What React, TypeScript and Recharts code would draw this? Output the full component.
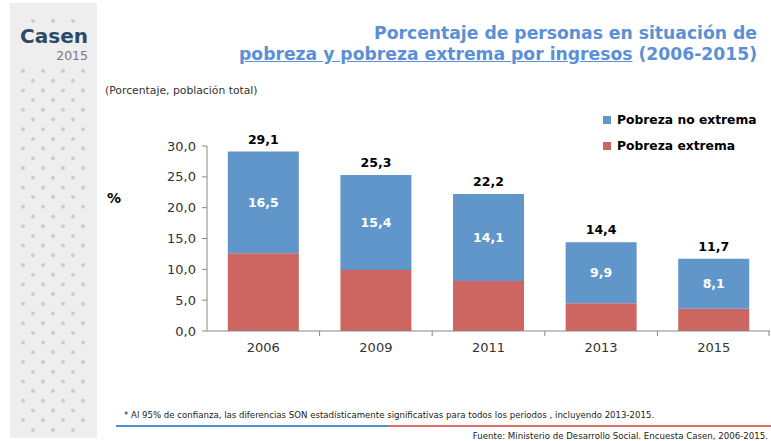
import React from 'react';
import { BarChart, Bar, XAxis, YAxis, LabelList } from 'recharts';

const years = ['2006', '2009', '2011', '2013', '2015'];
const pobrezaExtrema = [12.6, 9.9, 8.1, 4.5, 3.6];
const pobrezaNoExtrema = [16.5, 15.4, 14.1, 9.9, 8.1];
const totals = [29.1, 25.3, 22.2, 14.4, 11.7];
const yTicks = [0, 5, 10, 15, 20, 25, 30];
const legendItems = [
  { label: 'Pobreza no extrema', key: 'noExtrema' },
  { label: 'Pobreza extrema', key: 'extrema' },
];

const data = years.map((y, i) => ({
  year: y,
  extrema: pobrezaExtrema[i],
  noExtrema: pobrezaNoExtrema[i],
  total: totals[i],
}));

const BLUE = '#6096c9';
const RED = '#cd6661';
const FONT = '"DejaVu Sans", Verdana, sans-serif';
const colorOf: Record<string, string> = { noExtrema: BLUE, extrema: RED };

const fmt = (v: number) => v.toFixed(1).replace('.', ',');

const XTick = (props: any) => {
  const { x, y, payload, index, visibleTicksCount } = props;
  const off = payload && payload.offset ? payload.offset : 56;
  const axisY = y - 8;
  const isLast = index === (visibleTicksCount ?? years.length) - 1;
  return (
    <g>
      {index > 0 && <line x1={x - off} x2={x - off} y1={axisY} y2={axisY + 5} stroke="#888" />}
      {isLast && <line x1={x + off - 1} x2={x + off - 1} y1={axisY} y2={axisY + 5} stroke="#888" />}
      <text x={x} y={y + 13} textAnchor="middle" fill="#333" fontSize={13} fontFamily={FONT}>
        {payload.value}
      </text>
    </g>
  );
};

const dots: { x: number; y: number }[] = [];
for (let r = 0; r < 38; r++) {
  const y = 71 + r * 9.7;
  if (y > 436) break;
  const xs = r % 2 === 0 ? [23, 43, 63, 83] : [33, 53, 73];
  xs.forEach((x) => dots.push({ x, y }));
}

export default function App() {
  return (
    <div style={{ position: 'absolute', left: 0, top: 0, width: 771, height: 441, overflow: 'hidden', background: '#fff', fontFamily: FONT }}>
      {/* sidebar */}
      <svg style={{ position: 'absolute', left: 0, top: 0 }} width={110} height={441}>
        <rect x={10} y={3} width={87} height={435} fill="#eeeeee" />
        {[33, 53, 73].map((x) => (
          <circle key={'t' + x} cx={x} cy={21} r={2} fill="#cbcbcb" />
        ))}
        {dots.map((d, i) => (
          <circle key={i} cx={d.x} cy={d.y} r={2} fill="#cbcbcb" />
        ))}
        <text x={88} y={43} textAnchor="end" fontFamily={FONT} fontWeight="bold" fontSize={20} fill="#2c4a66">Casen</text>
        <text x={88} y={60} textAnchor="end" fontFamily={FONT} fontSize={12.5} fill="#7a7a7a">2015</text>
      </svg>

      {/* title */}
      <div style={{ position: 'absolute', right: 14, top: 23, textAlign: 'right', color: '#5b90d6', fontWeight: 'bold', fontSize: 17.2, lineHeight: '21px', whiteSpace: 'nowrap' }}>
        <div>Porcentaje de personas en situación de</div>
        <div><span style={{ textDecoration: 'underline' }}>pobreza y pobreza extrema por ingresos</span> (2006-2015)</div>
      </div>

      <div style={{ position: 'absolute', left: 105, top: 84, fontSize: 10.8, color: '#333', whiteSpace: 'nowrap' }}>
        (Porcentaje, población total)
      </div>

      <div style={{ position: 'absolute', left: 107, top: 190, fontSize: 14, fontWeight: 'bold', color: '#000' }}>%</div>

      {/* legend */}
      <div style={{ position: 'absolute', left: 603, top: 107, fontFamily: FONT, fontWeight: 'bold', fontSize: 12.3, color: '#000' }}>
        {legendItems.map((it) => (
          <div key={it.key} style={{ display: 'flex', alignItems: 'center', height: 26, whiteSpace: 'nowrap' }}>
            <span style={{ width: 8, height: 8, background: colorOf[it.key], display: 'inline-block', marginRight: 6 }} />
            {it.label}
          </div>
        ))}
      </div>

      <div style={{ position: 'absolute', left: 0, top: 0 }}>
        <BarChart
          width={771}
          height={441}
          data={data}
          margin={{ top: 146, right: 1, bottom: 80, left: 0 }}
          barCategoryGap="18.5%"
        >
          <XAxis
            dataKey="year"
            height={30}
            stroke="#888"
            tickLine={false}
            tick={<XTick />}
            interval={0}
          />
          <YAxis
            width={207}
            domain={[0, 30]}
            ticks={yTicks}
            tickFormatter={fmt}
            stroke="#888"
            tickSize={5}
            tickMargin={6}
            tick={{ fill: '#333', fontSize: 13, fontFamily: FONT }}
            interval={0}
          />
          <Bar dataKey="extrema" stackId="a" fill={RED} isAnimationActive={false} />
          <Bar dataKey="noExtrema" stackId="a" fill={BLUE} isAnimationActive={false}>
            <LabelList dataKey="noExtrema" position="center" formatter={(v: any) => fmt(Number(v))} fill="#fff" fontSize={12.5} fontWeight="bold" fontFamily={FONT} />
            <LabelList dataKey="total" position="top" offset={8} formatter={(v: any) => fmt(Number(v))} fill="#000" fontSize={12.5} fontWeight="bold" fontFamily={FONT} />
          </Bar>
        </BarChart>
      </div>

      <div style={{ position: 'absolute', left: 124, top: 410, fontSize: 8.6, color: '#222', whiteSpace: 'nowrap' }}>
        * Al 95% de confianza, las diferencias SON estadísticamente significativas para todos los periodos , incluyendo 2013-2015.
      </div>
      <div style={{ position: 'absolute', left: 116, top: 425, width: 272, height: 2, background: '#4a8fd8' }} />
      <div style={{ position: 'absolute', left: 388, top: 425, width: 383, height: 2, background: '#e46c6c' }} />
      <div style={{ position: 'absolute', right: 3, top: 431, fontSize: 8.65, color: '#222', whiteSpace: 'nowrap' }}>
        Fuente: Ministerio de Desarrollo Social. Encuesta Casen, 2006-2015.
      </div>
    </div>
  );
}
